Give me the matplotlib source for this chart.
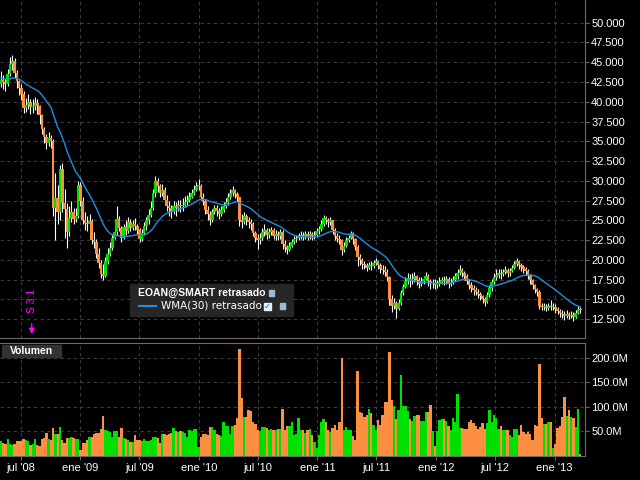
import numpy as np
import pandas as pd
import matplotlib
matplotlib.use('Agg')
import matplotlib.pyplot as plt
import matplotlib.dates as mdates
from matplotlib.patches import Rectangle

plt.rcParams['font.family'] = ['Liberation Sans', 'DejaVu Sans']

# weekly closes before the visible window (only used to seed the WMA)
prior_closes = [
    43.0, 44.0, 44.5, 45.0, 45.5, 46.0, 45.0, 46.5, 47.0, 47.5,
    47.5, 47.0, 46.0, 43.5, 41.0, 42.0, 43.0, 42.0, 43.0, 42.5,
    41.0, 40.5, 40.5, 41.5, 42.0, 42.5, 43.0, 43.5, 42.5,
]
# weekly bars, EOAN, May 2008 - Mar 2013
first_open = 42.3
closes = [
    42.8, 42.5, 42.3, 43.5, 44.8, 45.2, 43.6, 42.6, 41.8, 41.0,
    39.2, 39.6, 40.0, 39.3, 39.5, 39.8, 39.4, 38.3, 36.5, 35.6,
    34.8, 35.4, 35.0, 26.5, 27.8, 26.0, 31.5, 27.2, 26.4, 23.5,
    25.3, 26.0, 25.2, 25.6, 29.5, 27.5, 25.0, 24.7, 24.5, 24.9,
    22.5, 22.3, 20.8, 19.6, 18.2, 17.9, 19.9, 20.8, 21.5, 22.8,
    23.5, 25.2, 24.0, 22.8, 24.2, 23.6, 24.8, 24.0, 24.6, 24.3,
    23.8, 22.6, 23.4, 24.3, 25.0, 25.7, 26.6, 28.5, 30.0, 29.3,
    28.5, 28.8, 27.6, 26.8, 26.5, 26.0, 26.8, 26.5, 27.0, 26.8,
    27.0, 27.3, 27.6, 28.0, 28.5, 28.9, 29.3, 29.4, 28.0, 27.5,
    26.3, 25.8, 25.0, 26.0, 26.5, 26.2, 25.8, 26.3, 26.8, 27.3,
    28.0, 28.5, 28.8, 28.3, 27.9, 25.0, 24.8, 25.5, 25.0, 24.8,
    24.5, 23.4, 22.8, 22.5, 22.8, 23.5, 23.8, 23.2, 23.5, 23.8,
    23.0, 23.3, 23.0, 23.5, 22.0, 21.6, 21.3, 21.8, 22.2, 22.6,
    22.8, 23.0, 23.2, 23.0, 23.3, 23.0, 23.3, 23.0, 23.2, 23.6,
    23.9, 24.5, 25.3, 25.0, 24.8, 25.0, 23.8, 23.0, 22.7, 22.5,
    21.3, 21.8, 22.5, 22.8, 23.4, 22.6, 21.6, 20.4, 20.0, 19.5,
    19.3, 19.0, 19.3, 19.2, 19.6, 19.9, 19.4, 18.9, 18.7, 18.5,
    17.8, 15.0, 14.2, 14.5, 13.8, 14.6, 15.8, 16.6, 17.3, 17.7,
    17.5, 17.6, 17.9, 17.4, 17.0, 17.3, 17.6, 18.0, 17.3, 16.9,
    17.1, 16.8, 16.9, 17.2, 17.4, 17.3, 17.6, 17.0, 17.2, 17.5,
    17.9, 18.3, 18.7, 18.3, 17.9, 17.3, 16.8, 16.4, 16.2, 16.0,
    15.7, 15.4, 15.0, 14.7, 15.6, 16.4, 17.2, 17.8, 18.1, 18.3,
    18.2, 18.5, 18.7, 18.3, 18.6, 19.0, 19.5, 19.8, 19.4, 19.1,
    18.8, 18.6, 18.0, 17.4, 16.8, 16.3, 15.9, 14.2, 14.0, 14.1,
    13.9, 14.2, 14.0, 14.1, 13.8, 13.5, 13.3, 13.1, 12.9, 13.1,
    12.9, 13.0, 12.8, 13.3, 13.8, 13.6,
]
highs = [
    43.9, 43.4, 43.0, 44.2, 45.6, 45.9, 45.5, 44.0, 42.8, 42.3,
    41.3, 40.5, 41.0, 40.4, 40.4, 40.6, 40.3, 39.6, 38.5, 36.8,
    35.9, 36.2, 35.8, 35.3, 31.0, 29.5, 32.0, 32.3, 29.0, 27.2,
    26.8, 27.5, 26.6, 26.5, 30.0, 29.8, 28.0, 26.0, 25.5, 25.8,
    25.2, 23.5, 22.6, 21.5, 20.0, 19.5, 20.4, 21.5, 22.3, 23.3,
    24.2, 26.8, 25.6, 24.3, 24.6, 25.0, 25.4, 25.2, 25.0, 25.3,
    24.6, 24.0, 23.9, 24.8, 25.4, 26.4, 27.5, 29.0, 30.6, 30.4,
    29.6, 29.6, 29.2, 28.2, 27.4, 27.0, 27.5, 27.3, 27.6, 27.6,
    27.8, 28.1, 28.2, 28.6, 29.0, 29.5, 29.9, 30.2, 29.6, 28.4,
    27.7, 26.8, 26.2, 26.4, 27.0, 26.9, 26.6, 26.8, 27.3, 27.8,
    28.4, 29.0, 29.3, 29.0, 28.6, 28.0, 25.8, 26.0, 25.8, 25.4,
    25.2, 24.8, 23.6, 23.3, 23.4, 24.0, 24.5, 24.0, 24.0, 24.2,
    24.0, 23.8, 23.6, 23.9, 23.8, 22.5, 21.9, 22.3, 22.6, 23.0,
    23.2, 23.4, 23.6, 23.5, 23.7, 23.6, 23.7, 23.5, 23.6, 24.0,
    24.3, 25.0, 25.7, 25.6, 25.3, 25.4, 25.1, 24.0, 23.4, 23.2,
    22.6, 22.2, 22.9, 23.2, 23.7, 23.5, 22.8, 21.9, 20.8, 20.3,
    19.9, 19.6, 19.7, 19.8, 20.0, 20.3, 20.0, 19.6, 19.3, 19.2,
    18.8, 18.0, 15.6, 15.2, 14.8, 15.0, 16.2, 17.0, 17.8, 18.3,
    18.2, 18.4, 18.5, 18.1, 17.8, 17.8, 18.0, 18.5, 18.2, 17.6,
    17.6, 17.6, 17.4, 17.8, 17.8, 17.9, 18.0, 17.8, 17.7, 18.0,
    18.3, 18.8, 19.3, 19.0, 18.6, 18.2, 17.6, 17.2, 16.8, 16.6,
    16.3, 16.0, 15.6, 15.3, 15.9, 16.8, 17.6, 18.3, 18.8, 18.9,
    18.8, 18.9, 19.2, 19.0, 19.0, 19.4, 19.9, 20.2, 20.0, 19.6,
    19.3, 19.1, 18.8, 18.2, 17.6, 17.0, 16.5, 16.2, 14.6, 14.5,
    14.4, 14.6, 14.9, 14.5, 14.4, 14.1, 13.8, 13.7, 13.5, 13.6,
    13.4, 13.5, 13.4, 13.7, 14.2, 14.1,
]
lows = [
    41.9, 41.6, 41.3, 42.0, 43.2, 44.0, 43.0, 41.8, 40.9, 40.2,
    38.6, 38.7, 39.1, 38.5, 38.6, 39.0, 38.5, 37.2, 35.9, 34.8,
    34.0, 34.4, 34.2, 25.5, 22.5, 24.5, 25.0, 26.0, 22.8, 21.5,
    23.0, 24.8, 24.6, 24.8, 25.3, 26.8, 24.5, 23.8, 23.6, 24.0,
    22.0, 21.5, 20.3, 19.0, 17.7, 17.5, 17.8, 19.5, 20.5, 21.2,
    22.6, 23.2, 23.7, 22.2, 22.6, 23.2, 23.4, 23.6, 23.8, 23.8,
    23.3, 22.2, 22.4, 23.1, 23.8, 24.6, 25.4, 26.3, 28.0, 28.6,
    28.0, 28.1, 27.0, 26.2, 25.6, 25.3, 25.8, 25.6, 26.2, 26.0,
    26.2, 26.7, 27.0, 27.3, 27.8, 28.2, 28.7, 28.9, 27.6, 27.0,
    25.8, 25.1, 24.4, 24.8, 25.8, 25.6, 25.2, 25.6, 26.0, 26.6,
    27.0, 27.7, 28.1, 27.8, 27.4, 24.3, 24.0, 24.6, 24.4, 24.0,
    23.8, 23.0, 22.2, 21.4, 22.0, 22.5, 23.0, 22.7, 22.8, 23.1,
    22.6, 22.5, 22.5, 22.7, 21.4, 21.0, 20.7, 21.1, 21.6, 22.0,
    22.3, 22.5, 22.7, 22.5, 22.7, 22.5, 22.7, 22.5, 22.6, 22.9,
    23.3, 23.7, 24.3, 24.5, 24.2, 24.4, 23.3, 22.5, 22.2, 22.0,
    20.6, 21.0, 21.6, 22.2, 22.6, 22.0, 21.2, 19.2, 19.4, 18.9,
    18.8, 18.6, 18.8, 18.7, 19.0, 19.4, 18.8, 18.3, 18.2, 17.9,
    17.3, 14.3, 13.4, 13.8, 12.6, 13.6, 14.3, 15.6, 16.5, 17.0,
    16.6, 16.9, 17.2, 16.8, 16.4, 16.7, 17.0, 17.4, 16.7, 16.3,
    16.5, 16.3, 16.4, 16.7, 16.9, 16.8, 17.0, 16.5, 16.7, 16.9,
    17.3, 17.6, 18.1, 17.8, 17.4, 16.9, 16.3, 15.9, 15.6, 15.5,
    15.2, 14.9, 14.5, 14.2, 14.5, 15.3, 16.1, 16.9, 17.5, 17.7,
    17.6, 17.9, 18.2, 17.8, 18.0, 18.5, 18.9, 19.2, 18.9, 18.6,
    18.3, 18.1, 17.6, 16.9, 16.3, 15.8, 15.4, 13.8, 13.6, 13.7,
    13.5, 13.6, 13.6, 13.6, 13.3, 13.1, 12.8, 12.6, 12.4, 12.6,
    12.5, 12.6, 12.3, 12.7, 13.2, 13.3,
]
# weekly volume, millions of shares
volumes = [
    30, 26, 25, 34, 24, 23, 25, 30, 31, 30,
    34, 33, 30, 23, 24, 34, 22, 21, 35, 36,
    47, 34, 33, 57, 45, 44, 60, 32, 26, 37,
    37, 38, 36, 35, 34, 13, 27, 27, 32, 38,
    39, 45, 46, 47, 55, 82, 53, 50, 49, 38,
    50, 51, 38, 57, 36, 35, 33, 28, 29, 43,
    33, 32, 31, 35, 30, 31, 33, 38, 39, 37,
    27, 45, 44, 43, 45, 46, 57, 50, 49, 50,
    48, 47, 38, 52, 51, 55, 54, 19, 38, 45,
    44, 43, 60, 59, 53, 45, 42, 41, 70, 62,
    61, 45, 62, 63, 77, 217, 118, 80, 79, 93,
    92, 70, 65, 52, 51, 60, 59, 58, 53, 54,
    53, 52, 55, 54, 96, 53, 62, 61, 69, 43,
    44, 78, 53, 52, 47, 53, 54, 42, 28, 16,
    42, 70, 76, 69, 52, 48, 57, 64, 53, 70,
    199, 52, 60, 52, 52, 40, 32, 174, 89, 87,
    79, 84, 96, 87, 64, 52, 74, 64, 84, 110,
    110, 212, 114, 101, 76, 93, 164, 101, 101, 91,
    76, 71, 82, 84, 84, 72, 71, 90, 90, 104,
    50, 21, 50, 74, 76, 76, 72, 62, 53, 78,
    70, 126, 57, 57, 55, 55, 69, 74, 67, 62,
    55, 60, 67, 55, 67, 93, 69, 84, 78, 55,
    62, 53, 53, 53, 43, 38, 55, 55, 42, 63,
    48, 45, 48, 45, 32, 64, 62, 188, 78, 65,
    65, 69, 69, 16, 25, 57, 62, 80, 121, 82,
    93, 80, 78, 60, 96, 5,
]

tick_dates = ['2008-07-01', '2009-01-01', '2009-07-01', '2010-01-01', '2010-07-01',
              '2011-01-01', '2011-07-01', '2012-01-01', '2012-07-01', '2013-01-01']
tick_labels = ["jul '08", "ene '09", "jul '09", "ene '10", "jul '10",
               "ene '11", "jul '11", "ene '12", "jul '12", "ene '13"]
price_ticks = np.arange(12.5, 50.01, 2.5)
vol_ticks = [50, 100, 150, 200]

c = np.array(closes)
h = np.array(highs)
l = np.array(lows)
v = np.array(volumes)
o = np.r_[first_open, c[:-1]]
dates = pd.date_range('2008-05-01', periods=len(c), freq='7D')
x = mdates.date2num(dates)

# WMA(30), seeded with the earlier weeks
allc = np.r_[prior_closes, c]
npre = len(prior_closes)
wma = []
for k in range(npre, len(allc)):
    w = allc[max(0, k - 29):k + 1]
    wt = np.arange(1, len(w) + 1)
    wma.append((w * wt).sum() / wt.sum())

GREEN = '#00e000'
ORANGE = '#ff8f40'
BLUE = '#1e8fe0'
GRID = '#3c3c3c'
SPINE = '#6a6a6a'
up = c >= o
colors = np.where(up, GREEN, ORANGE)

fig = plt.figure(figsize=(6.4, 4.8), dpi=100, facecolor='black')
ax = fig.add_axes([0, 0.296, 0.914, 0.704], facecolor='black')
axv = fig.add_axes([0, 0.05, 0.914, 0.2354], facecolor='black', sharex=ax)

xmin = x[0] - 0.4 * 7
xmax = x[0] + 257.05 * 7

# candles
ax.vlines(x, l, h, color='white', lw=0.8, zorder=2)
body = np.maximum(np.abs(c - o), 0.12)
ax.bar(x, body, bottom=np.minimum(o, c), width=8.0, color=colors, lw=0, zorder=3)
ax.plot(x, wma, color=BLUE, lw=1.0, zorder=4)

ax.set_ylim(10.13, 52.87)
ax.set_xlim(xmin, xmax)
ax.yaxis.tick_right()
ax.set_yticks(price_ticks)
ax.set_yticklabels([f'{t:.3f}' for t in price_ticks])
ax.tick_params(axis='y', colors=SPINE, labelcolor='white', labelsize=8, length=3, pad=1.5)
ax.tick_params(axis='x', length=0, labelbottom=False)
ax.set_xticks(mdates.date2num(pd.to_datetime(tick_dates)))
ax.grid(True, color=GRID, ls=(0, (3, 3)), lw=0.8)
for s in ['left', 'top']:
    ax.spines[s].set_visible(False)
for s in ['right', 'bottom']:
    ax.spines[s].set_color(SPINE)

# split marker
split_x = mdates.date2num(pd.Timestamp('2008-08-04'))
ax.annotate('', xy=(split_x, 10.25), xytext=(split_x, 12.3),
            arrowprops=dict(arrowstyle='-|>', color='#ff00ff', lw=1.0, mutation_scale=8))
ax.text(split_x, 13.3, 'S 3:1', rotation=90, color='#ff00ff', fontsize=7.5,
        ha='center', va='bottom')

# volume
axv.bar(x, v, width=7.2, color=colors, lw=0, zorder=3)
axv.set_ylim(0, 230)
axv.yaxis.tick_right()
axv.set_yticks(vol_ticks)
axv.set_yticklabels([f'{t:.1f}M' for t in vol_ticks])
axv.tick_params(axis='y', colors=SPINE, labelcolor='white', labelsize=8, length=3, pad=1.5)
axv.set_xticks(mdates.date2num(pd.to_datetime(tick_dates)))
axv.set_xticklabels(tick_labels)
axv.tick_params(axis='x', colors=SPINE, length=3, labelcolor='white', labelsize=8, pad=2)
axv.grid(True, color=GRID, ls=(0, (3, 3)), lw=0.8)
axv.spines['left'].set_visible(False)
for s in ['right', 'bottom', 'top']:
    axv.spines[s].set_color(SPINE)
axv.set_xlim(xmin, xmax)

# "Volumen" tag
fig.patches.append(Rectangle((2 / 640, 1 - 357 / 480), 59 / 640, 12 / 480,
                             transform=fig.transFigure, color='#333333', zorder=5))
fig.text(10 / 640, 1 - 351 / 480, 'Volumen', color='white', fontsize=7.5,
         fontweight='bold', va='center', ha='left', zorder=6)

# legend box
fig.patches.append(Rectangle((130 / 640, 1 - 316 / 480), 163 / 640, 32 / 480,
                             transform=fig.transFigure, color='#262626', zorder=5))
fig.text(138 / 640, 1 - 293 / 480, 'EOAN@SMART retrasado', color='white', fontsize=7.5,
         fontweight='bold', va='center', ha='left', zorder=6)
fig.lines.append(plt.Line2D([139 / 640, 156 / 640], [1 - 306 / 480, 1 - 306 / 480],
                            transform=fig.transFigure, color=BLUE, lw=1.5, zorder=6))
fig.text(161 / 640, 1 - 306 / 480, 'WMA(30) retrasado', color='white', fontsize=7.5,
         va='center', ha='left', zorder=6, family='DejaVu Sans')
fig.patches.append(Rectangle((264 / 640, 1 - 310 / 480), 7 / 640, 7 / 480,
                             transform=fig.transFigure, color='#e8f0ff', zorder=6))
fig.text(267.5 / 640, 1 - 306.5 / 480, '\u2713', color='#2060d0', fontsize=6,
         va='center', ha='center', zorder=7, family='DejaVu Sans', fontweight='bold')
for (wx, wy) in [(269, 293), (280, 306)]:
    fig.patches.append(Rectangle((wx / 640, 1 - (wy + 3) / 480), 5 / 640, 6 / 480,
                                 transform=fig.transFigure, color='#9db8d8', zorder=6))

fig.savefig('out.png', dpi=100, facecolor='black')
